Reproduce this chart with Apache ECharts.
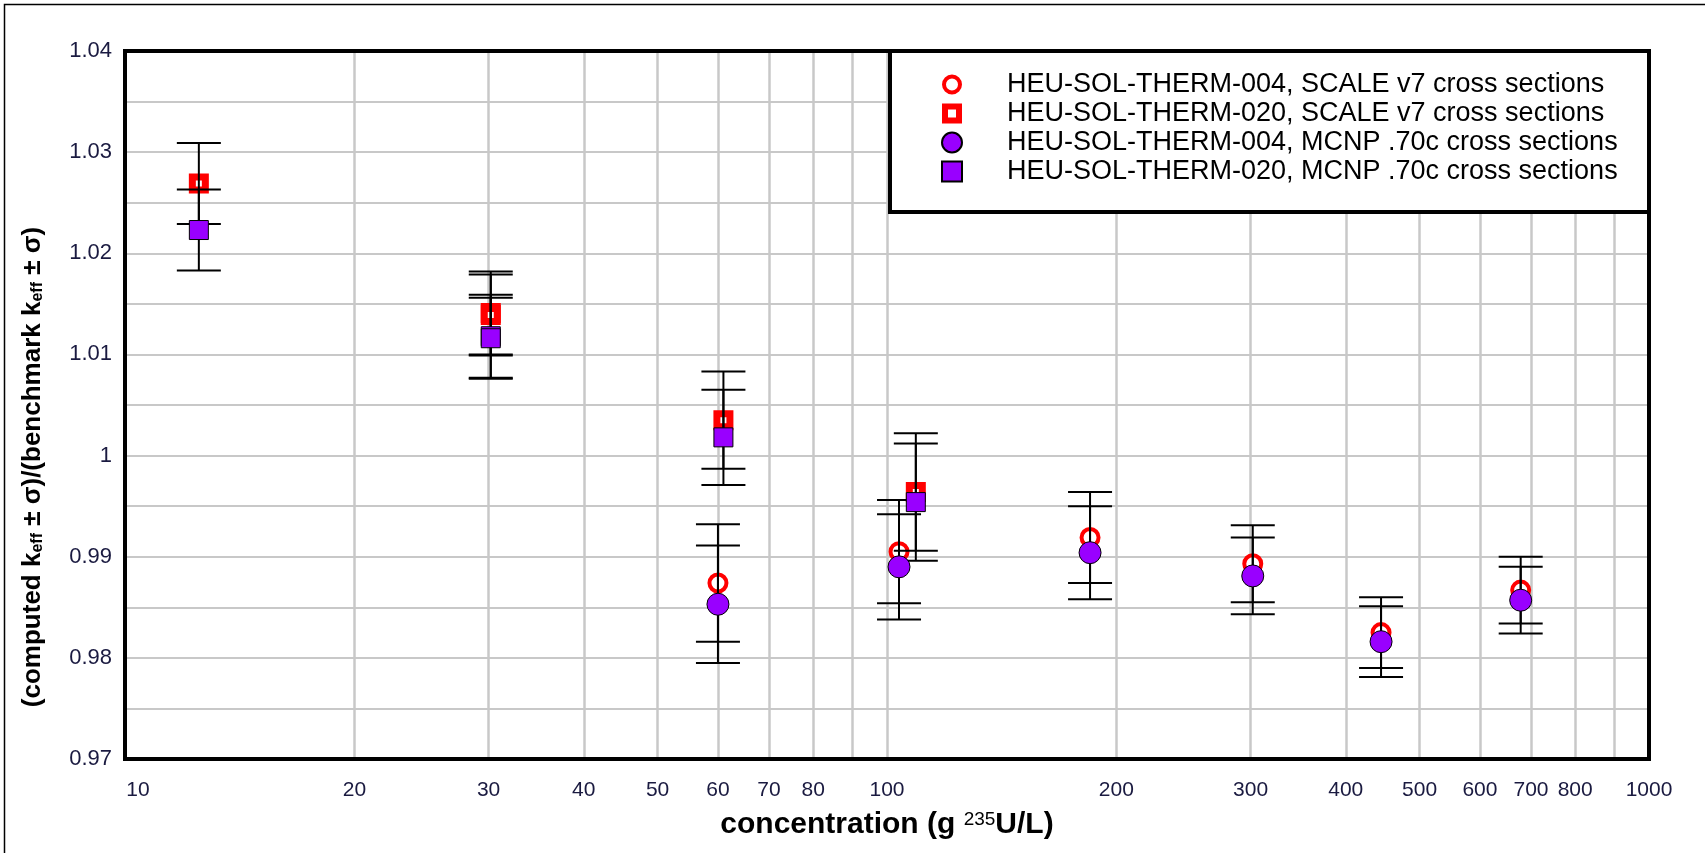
<!DOCTYPE html>
<html><head><meta charset="utf-8">
<script src="https://cdn.jsdelivr.net/npm/echarts@6/dist/echarts.min.js"></script>
<style>html,body{margin:0;padding:0;background:#fff}#c{width:1705px;height:853px}</style>
</head><body><div id="c"></div>
<script>
// ---- data ----
const xTickValues = [10,20,30,40,50,60,70,80,90,100,200,300,400,500,600,700,800,900,1000];
const xLabelValues = [10,20,30,40,50,60,70,80,100,200,300,400,500,600,700,800,1000];
const seriesNames = [
  'HEU-SOL-THERM-004, SCALE v7 cross sections',
  'HEU-SOL-THERM-020, SCALE v7 cross sections',
  'HEU-SOL-THERM-004, MCNP .70c cross sections',
  'HEU-SOL-THERM-020, MCNP .70c cross sections'
];
const scale004X   = [60, 103.7, 184.7, 302, 445, 678.6];
const scale004Y   = [0.9874, 0.9905, 0.9919, 0.9893, 0.9825, 0.9867];
const scale004Err = [0.0058, 0.0051, 0.0045, 0.0038, 0.0035, 0.0033];
const scale020X   = [12.5, 30.2, 30.2, 61, 109.1];
const scale020Y   = [1.0269, 1.0141, 1.0139, 1.0035, 0.9964];
const scale020Err = [0.0040, 0.0041, 0.0040, 0.0048, 0.0058];
const mcnp004X    = [60, 103.7, 184.7, 302, 445, 678.6];
const mcnp004Y    = [0.9853, 0.9890, 0.9904, 0.9881, 0.9816, 0.9857];
const mcnp004Err  = [0.0058, 0.0052, 0.0046, 0.0038, 0.0035, 0.0033];
const mcnp020X    = [12.5, 30.2, 30.2, 61, 109.1];
const mcnp020Y    = [1.0223, 1.0118, 1.0116, 1.0018, 0.9954];
const mcnp020Err  = [0.0040, 0.0041, 0.0040, 0.0047, 0.0058];
const yTitle = '(computed k{sub|eff} ± σ)/(benchmark k{sub|eff} ± σ)';
const xTitle = '{b|concentration (g }{s|235}{b|U/L)}';

// ---- helpers ----
const FF = '"Liberation Sans", Arial, sans-serif';
const pts = (xs, ys) => xs.map((x, i) => [x, ys[i]]);
const errPts = (xs, ys, es) => xs.map((x, i) => [x, ys[i], es[i]]);
const allErr = [].concat(
  errPts(scale004X, scale004Y, scale004Err),
  errPts(scale020X, scale020Y, scale020Err),
  errPts(mcnp004X, mcnp004Y, mcnp004Err),
  errPts(mcnp020X, mcnp020Y, mcnp020Err)
);
function renderErr(params, api) {
  const x = api.value(0), y = api.value(1), e = api.value(2);
  const t = api.coord([x, y + e]);
  const b = api.coord([x, y - e]);
  const hw = 22;
  const st = {stroke: '#000', lineWidth: 2};
  return {type: 'group', children: [
    {type: 'line', shape: {x1: t[0], y1: t[1], x2: b[0], y2: b[1]}, style: st},
    {type: 'line', shape: {x1: t[0] - hw, y1: t[1], x2: t[0] + hw, y2: t[1]}, style: st},
    {type: 'line', shape: {x1: b[0] - hw, y1: b[1], x2: b[0] + hw, y2: b[1]}, style: st}
  ]};
}
const ringPath = 'path://M0,10 A10,10 0 1,0 20,10 A10,10 0 1,0 0,10 Z M4,10 A6,6 0 1,1 16,10 A6,6 0 1,1 4,10 Z';
const holeSqPath = 'path://M0,0 L20,0 L20,20 L0,20 Z M6,6 L6,14 L14,14 L14,6 Z';
const gridColor = '#c8c8c8';
const G = {left: 125, right: 56, top: 51, bottom: 94};

const chart = echarts.init(document.getElementById('c'), null, {renderer: 'canvas'});
chart.setOption({
  backgroundColor: '#fff',
  animation: false,
  textStyle: {fontFamily: FF},
  grid: {left: G.left, right: G.right, top: G.top, bottom: G.bottom, show: false},
  xAxis: {
    type: 'log', logBase: 10, min: 10, max: 1000,
    axisLine: {show: false},
    axisTick: {show: false, customValues: xTickValues},
    axisLabel: {customValues: xLabelValues, fontSize: 21, color: '#1a1a40', margin: 21, fontFamily: FF,
      formatter: v => Math.round(v) === 10 ? '{f|10}' : String(Math.round(v)),
      rich: {f: {fontSize: 21, color: '#1a1a40', fontFamily: FF, padding: [0, 0, 0, 26]}}},
    splitLine: {show: true, lineStyle: {color: gridColor, width: 2.5}},
    name: xTitle,
    nameLocation: 'middle', nameGap: 51,
    nameTextStyle: {rich: {
      b: {fontSize: 30, fontWeight: 'bold', color: '#000', fontFamily: FF},
      s: {fontSize: 19, color: '#000', fontFamily: FF, verticalAlign: 'top'}
    }}
  },
  yAxis: {
    type: 'value', min: 0.97, max: 1.04, interval: 0.01,
    axisLine: {show: false}, axisTick: {show: false},
    axisLabel: {fontSize: 22, color: '#1a1a40', margin: 13, fontFamily: FF,
      formatter: v => String(Math.round(v * 100) / 100)},
    splitLine: {show: true, lineStyle: {color: gridColor, width: 2}},
    minorTick: {show: false, splitNumber: 2},
    minorSplitLine: {show: true, lineStyle: {color: gridColor, width: 2}}
  },
  legend: {
    orient: 'vertical', left: 941, top: 70, z: 60, padding: 0, itemGap: 0,
    itemWidth: 20, itemHeight: 20,
    textStyle: {fontSize: 27, color: '#000', fontFamily: FF, lineHeight: 29, padding: [0, 0, 0, 40]},
    data: [
      {name: seriesNames[0], icon: ringPath, itemStyle: {color: '#ff0000', borderWidth: 0}},
      {name: seriesNames[1], icon: holeSqPath, itemStyle: {color: '#ff0000', borderWidth: 0}},
      {name: seriesNames[2], icon: 'circle'},
      {name: seriesNames[3], icon: 'rect'}
    ],
    selectedMode: false
  },
  graphic: [
    {type: 'rect', z: 50, shape: {x: G.left, y: G.top, width: 1705 - G.left - G.right, height: 853 - G.top - G.bottom},
      style: {fill: 'none', stroke: '#000', lineWidth: 4}},
    {type: 'rect', z: 51, shape: {x: 890, y: 51, width: 759, height: 161},
      style: {fill: '#fff', stroke: '#000', lineWidth: 4}},
    {type: 'rect', z: 50, shape: {x: 4.5, y: 4.5, width: 1720, height: 870},
      style: {fill: 'none', stroke: '#000', lineWidth: 1.5}},
    {type: 'text', z: 50, x: 33, y: 467, rotation: Math.PI / 2,
      style: {text: yTitle, fontSize: 26, fontWeight: 'bold', fill: '#000', fontFamily: FF,
        align: 'center', verticalAlign: 'middle',
        rich: {sub: {fontSize: 16, fontWeight: 'bold', fill: '#000', fontFamily: FF, verticalAlign: 'bottom'}}}}
  ],
  series: [
    {name: seriesNames[0], type: 'scatter', z: 2, data: pts(scale004X, scale004Y),
      symbol: 'circle', symbolSize: 17,
      itemStyle: {color: '#fff', borderColor: '#ff0000', borderWidth: 4, opacity: 1}},
    {name: seriesNames[1], type: 'scatter', z: 2, data: pts(scale020X, scale020Y),
      symbol: 'rect', symbolSize: 13,
      itemStyle: {color: '#fff', borderColor: '#ff0000', borderWidth: 7, opacity: 1}},
    {name: 'error bars', type: 'custom', z: 3, data: allErr, renderItem: renderErr,
      encode: {x: 0, y: 1}, silent: true},
    {name: seriesNames[2], type: 'scatter', z: 4, data: pts(mcnp004X, mcnp004Y),
      symbol: 'circle', symbolSize: 22,
      itemStyle: {color: '#9900ff', borderColor: '#000', borderWidth: 1, opacity: 1}},
    {name: seriesNames[3], type: 'scatter', z: 4, data: pts(mcnp020X, mcnp020Y),
      symbol: 'rect', symbolSize: 19,
      itemStyle: {color: '#9900ff', borderColor: '#000', borderWidth: 1, opacity: 1}}
  ]
});
</script></body></html>
